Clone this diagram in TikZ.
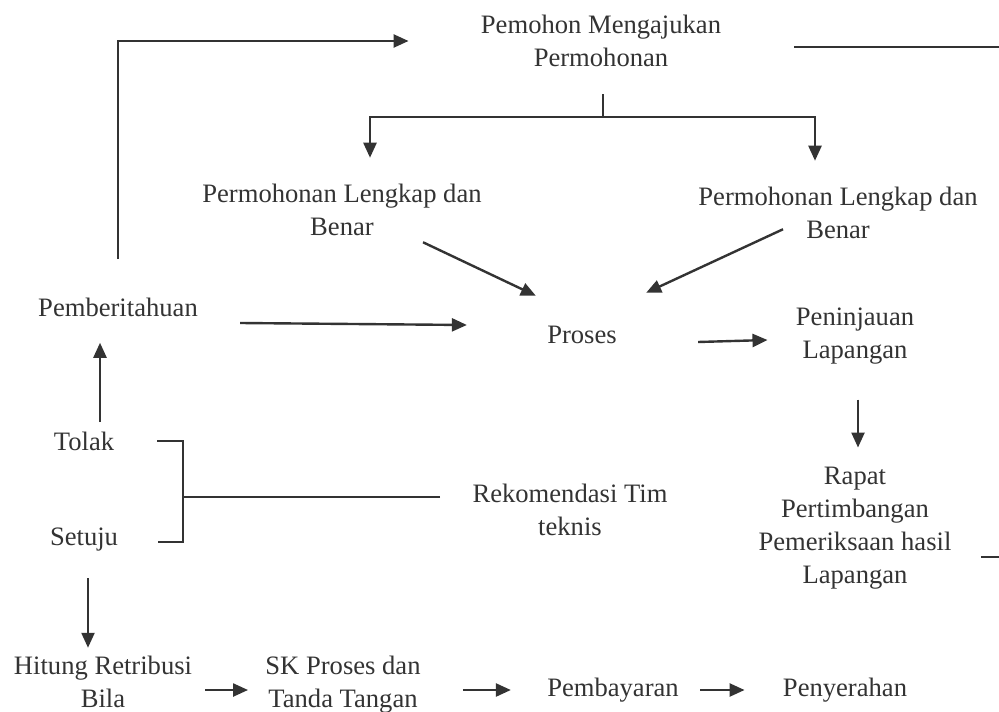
\documentclass[tikz,border=0pt]{standalone}
\usepackage{fontspec}
\setmainfont{Liberation Serif}
\usepackage{tikz}
\usetikzlibrary{positioning,arrows.meta}
\usepackage{xcolor}
\definecolor{ink}{HTML}{333333}

\begin{document}
\begin{tikzpicture}[x=0.5pt, y=-0.5pt,
  txt/.style={align=center, inner sep=2pt, text=ink, font=\fontsize{13.3}{16.5}\selectfont},
  ln/.style={draw=ink, line width=1.2pt},
  arr/.style={ln, -{Triangle[length=7.5pt, width=6.5pt]}}]
\useasboundingbox (0,0) rectangle (999,711);
% nodes
\node[txt] (pemohon) at (601,41) {Pemohon Mengajukan\\Permohonan};
\node[txt] (plbL) at (342,210) {Permohonan Lengkap dan\\Benar};
\node[txt] (plbR) at (838,213) {Permohonan Lengkap dan\\Benar};
\node[txt] (pemb) at (118,307) {Pemberitahuan};
\node[txt] (proses) at (582,335) {Proses};
\node[txt] (tinjau) at (855,336) {Peninjauan\\Lapangan};
\node[txt] (rapat) at (855,528) {Rapat\\Pertimbangan\\Pemeriksaan hasil\\Lapangan};
\node[txt] (rekom) at (570,510) {Rekomendasi Tim\\teknis};
\node[txt] (tolak) at (84,441) {Tolak};
\node[txt] (setuju) at (84,540) {Setuju};
\node[txt] (hitung) at (103,682) {Hitung Retribusi\\Bila};
\node[txt] (sk) at (343,685) {SK Proses dan\\Tanda Tangan};
\node[txt] (bayar) at (613,690) {Pembayaran};
\node[txt] (serah) at (845,690) {Penyerahan};
% free ends
\coordinate (offR) at (999,47);
\coordinate (offR2) at (999,557);
\coordinate (split) at (603,117);
\coordinate (brk) at (183,497);
% top loop
\draw[arr] ([yshift=17pt]pemb.north) |- ([xshift=-34pt]pemohon.west);
\draw[ln] ([xshift=34.5pt,yshift=-3pt]pemohon.east) -- (offR);
% split to both checks
\draw[ln] ([xshift=1pt,yshift=-11.5pt]pemohon.south) -- (split);
\draw[arr] (split) -| ([xshift=14pt,yshift=11pt]plbL.north);
\draw[arr] (split) -| ([xshift=-11.5pt,yshift=11pt]plbR.north);
% into Proses
\draw[arr] ([xshift=-31.5pt,yshift=-1pt]plbL.south east) -- ([xshift=-3.5pt,yshift=13pt]proses.north west);
\draw[arr] ([xshift=44.5pt,yshift=7pt]plbR.south west) -- ([xshift=12.5pt,yshift=14.5pt]proses.north east);
\draw[arr] ([xshift=19pt,yshift=-8pt]pemb.east) -- ([xshift=-38pt,yshift=5pt]proses.west);
\draw[arr] ([xshift=38.5pt,yshift=-3.5pt]proses.east) -- ([xshift=-12pt,yshift=-2pt]tinjau.west);
\draw[arr] ([xshift=1.5pt,yshift=-15.5pt]tinjau.south) -- ([xshift=1.5pt,yshift=7.5pt]rapat.north);
\draw[ln] ([xshift=12.5pt,yshift=-14.5pt]rapat.east) -- (offR2);
% recommendation bracket
\draw[ln] ([xshift=-14pt,yshift=6.5pt]rekom.west) -- (brk);
\draw[ln] ([xshift=19.5pt]tolak.east) -| (brk);
\draw[ln] ([xshift=18pt,yshift=-1pt]setuju.east) -| (brk);
\draw[arr] ([xshift=8pt,yshift=2.5pt]tolak.north) -- ([xshift=-9pt,yshift=-11pt]pemb.south);
\draw[arr] ([xshift=2pt,yshift=-11pt]setuju.south) -- ([xshift=-7.5pt,yshift=2pt]hitung.north);
% bottom row
\draw[arr] ([xshift=4.5pt,yshift=-4pt]hitung.east) -- ([xshift=-6.5pt,yshift=-2.5pt]sk.west);
\draw[arr] ([xshift=19pt,yshift=-2.5pt]sk.east) -- ([xshift=-16pt]bayar.west);
\draw[arr] ([xshift=8.5pt]bayar.east) -- ([xshift=-17pt]serah.west);
\end{tikzpicture}
\end{document}
